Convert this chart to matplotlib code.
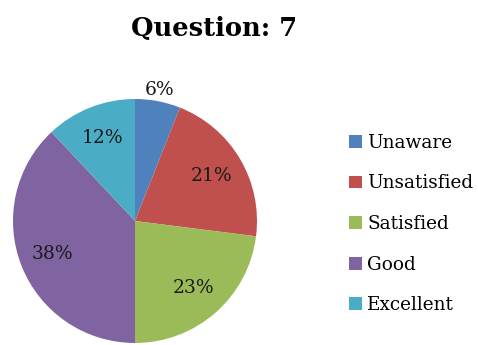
import matplotlib
matplotlib.use("Agg")
import matplotlib.pyplot as plt
from matplotlib.patches import Patch
import numpy as np

title = "Question: 7"
categories = ["Unaware", "Unsatisfied", "Satisfied", "Good", "Excellent"]
values = [6, 21, 23, 38, 12]
colors = ["#4F81BD", "#C0504D", "#9BBB59", "#8064A2", "#4BACC6"]

W, H = 478, 345
fig = plt.figure(figsize=(W / 100, H / 100), dpi=100)
fig.patch.set_facecolor("white")

serif = ["DejaVu Serif"]

# pie axes: center (135, 221) px, radius 122 px
cx, cy, r = 135, 221, 122
ax = fig.add_axes([(cx - r) / W, (H - cy - r) / H, 2 * r / W, 2 * r / H])
wedges, texts, autotexts = ax.pie(
    values, colors=colors, startangle=90, counterclock=False,
    autopct=lambda p: f"{p:.0f}%", pctdistance=0.73,
    textprops=dict(fontsize=13.5, family=serif, color="#1a1a1a"),
    wedgeprops=dict(linewidth=0),
)
# first (small) slice label placed outside the pie
x0, y0 = autotexts[0].get_position()
s = 1.09 / 0.73
autotexts[0].set_position((x0 * s, y0 * s))
ax.set_aspect("equal")
ax.set_xlim(-1, 1)
ax.set_ylim(-1, 1)
ax.axis("off")

fig.text(214 / W, 1 - 29 / H, title, ha="center", va="center",
         fontsize=18.5, fontweight="bold", family=serif)

handles = [Patch(facecolor=c, edgecolor="none") for c in colors]
leg = fig.legend(handles, categories, loc="center left",
                 bbox_to_anchor=(332 / W, 1 - 224 / H),
                 frameon=False, prop=dict(family=serif, size=13.3),
                 handlelength=0.7, handleheight=0.7, handletextpad=0.3,
                 labelspacing=1.22)

fig.savefig("out.png", dpi=100, facecolor="white")
